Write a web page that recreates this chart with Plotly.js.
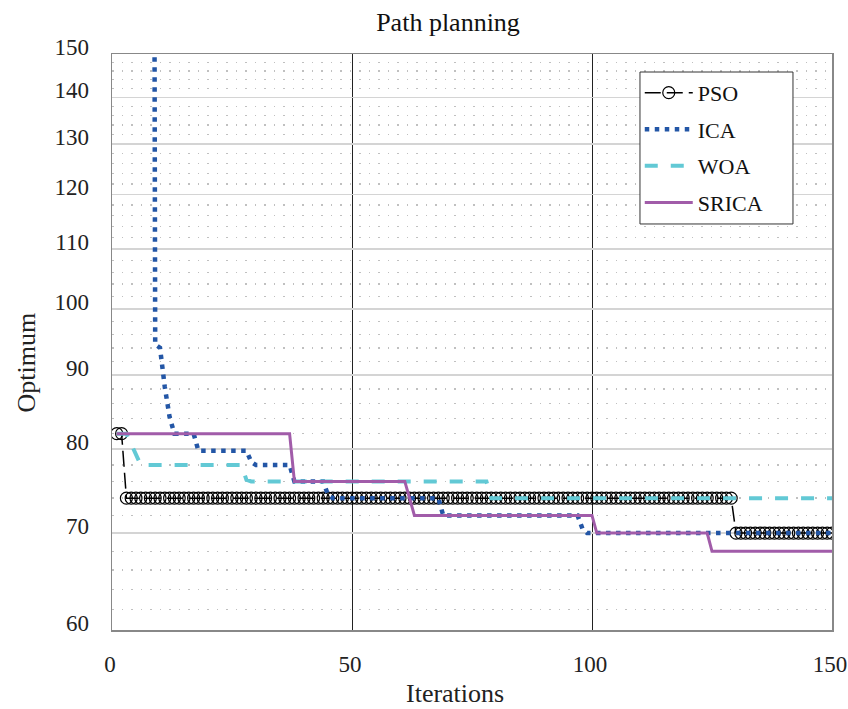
<!DOCTYPE html>
<html>
<head>
<meta charset="utf-8">
<script src="https://cdn.plot.ly/plotly-3.0.1.min.js"></script>
<style>html,body{margin:0;padding:0;background:#fff;}#chart{width:848px;height:709px;}</style>
</head>
<body>
<div id="chart"></div>
<script>
// ---- data ----
var psoX = [1,2,3,4,5,6,7,8,9,10,11,12,13,14,15,16,17,18,19,20,21,22,23,24,25,26,27,28,29,30,
  31,32,33,34,35,36,37,38,39,40,41,42,43,44,45,46,47,48,49,50,51,52,53,54,55,56,57,58,59,60,
  61,62,63,64,65,66,67,68,69,70,71,72,73,74,75,76,77,78,79,80,81,82,83,84,85,86,87,88,89,90,
  91,92,93,94,95,96,97,98,99,100,101,102,103,104,105,106,107,108,109,110,111,112,113,114,115,116,117,118,119,120,
  121,122,123,124,125,126,127,128,129,130,131,132,133,134,135,136,137,138,139,140,141,142,143,144,145,146,147,148,149,150];
var psoY = [82,82,74,74,74,74,74,74,74,74,74,74,74,74,74,74,74,74,74,74,74,74,74,74,74,74,74,74,74,74,
  74,74,74,74,74,74,74,74,74,74,74,74,74,74,74,74,74,74,74,74,74,74,74,74,74,74,74,74,74,74,
  74,74,74,74,74,74,74,74,74,74,74,74,74,74,74,74,74,74,74,74,74,74,74,74,74,74,74,74,74,74,
  74,74,74,74,74,74,74,74,74,74,74,74,74,74,74,74,74,74,74,74,74,74,74,74,74,74,74,74,74,74,
  74,74,74,74,74,74,74,74,74,70,70,70,70,70,70,70,70,70,70,70,70,70,70,70,70,70,70,70,70,70];

var icaX = [1, 8, 9, 10, 11, 12, 13, 17, 18, 28, 29, 30, 37, 38, 44, 45, 46, 68, 69, 97, 98, 99, 150];
var icaY = [3000, 3000, 94.5, 94, 88.3, 84.2, 82, 82, 79.8, 79.8, 78.4, 78, 78, 76, 76, 74.4, 74, 74, 72, 72, 70.5, 70, 70];

var woaX = [1, 3, 6, 27, 28, 29, 78, 79, 150];
var woaY = [82, 82, 78, 78, 76.2, 76, 76, 74, 74];

var sricaX = [1, 37, 38, 61, 63, 100, 101, 124, 125, 150];
var sricaY = [82, 82, 76, 76, 72, 72, 70, 70, 68, 68];

var yMajor = [60, 70, 80, 90, 100, 110, 120, 130, 140, 150];
var yMinor = [62,64,66,68,72,74,76,78,82,84,86,88,92,94,96,98,102,104,106,108,
  112,114,116,118,122,124,126,128,132,134,136,138,142,144,146,148];
var xTicks = [0, 50, 100, 150];

var FONT = 'Liberation Serif, Times New Roman, serif';

var traces = [
  {x: psoX, y: psoY, name: 'PSO', type: 'scatter', mode: 'lines+markers', legendgroup: 'a',
   line: {color: '#000000', width: 1.5, dash: '16px,6px'},
   marker: {symbol: 'circle-open', size: 12, color: '#000000', line: {width: 1.2, color: '#000'}}},
  {x: icaX, y: icaY, name: 'ICA', type: 'scatter', mode: 'lines', legendgroup: 'b',
   line: {color: '#2356a6', width: 4.5, dash: '4.5px,5.5px'}},
  {x: woaX, y: woaY, name: 'WOA', type: 'scatter', mode: 'lines', legendgroup: 'c',
   line: {color: '#62c9d5', width: 4, dash: '13px,13px'}},
  {x: sricaX, y: sricaY, name: 'SRICA', type: 'scatter', mode: 'lines', legendgroup: 'd',
   line: {color: '#a15ca9', width: 3}}
];

var layout = {
  width: 848, height: 709,
  margin: {l: 112, r: 16, t: 54, b: 79},
  paper_bgcolor: '#ffffff', plot_bgcolor: '#ffffff',
  font: {family: FONT, color: '#222', size: 23},
  title: {text: 'Path planning', font: {family: FONT, size: 26, color: '#111'},
          xref: 'paper', x: 0.4667, xanchor: 'center', yref: 'container', y: 0.969, yanchor: 'middle'},
  showlegend: true,
  legend: {x: 0.733, y: 0.969, xanchor: 'left', yanchor: 'top',
           bgcolor: 'rgba(0,0,0,0)', borderwidth: 0,
           font: {family: FONT, size: 22, color: '#111'}, tracegroupgap: 5,
           itemwidth: 48},
  shapes: [
    // legend frame
    {type: 'rect', xref: 'paper', yref: 'paper', x0: 0.7333, x1: 0.9458, y0: 0.7049, y1: 0.96875,
     fillcolor: '#ffffff', line: {color: '#333', width: 1}, layer: 'above'}
  ],
  xaxis: {range: [0, 150], tickvals: xTicks, ticktext: xTicks.map(String),
          showgrid: true, gridcolor: '#222', gridwidth: 1,
          showline: true, mirror: true, linecolor: '#888', linewidth: 1.5,
          zeroline: false, ticks: '', ticklabelstandoff: 13, ticklabelshift: -2, ticklabeloverflow: 'allow',
          tickfont: {family: FONT, size: 23, color: '#222'}},
  yaxis: {type: 'log', range: [Math.log10(60), Math.log10(150)],
          tickmode: 'array', tickvals: yMajor, ticktext: yMajor.map(String),
          showgrid: true, gridcolor: '#d4d4d4', gridwidth: 1.5,
          minor: {tickmode: 'array', tickvals: yMinor, showgrid: true, gridcolor: '#c0c0c0', gridwidth: 1.5, griddash: '1.5px,8px', ticks: ''},
          showline: true, mirror: true, linecolor: '#888', linewidth: 1.5,
          zeroline: false, ticks: '', ticklabelstandoff: 17, ticklabelshift: -7,
          tickfont: {family: FONT, size: 23, color: '#222'}},
  annotations: [
    {text: 'Iterations', xref: 'paper', yref: 'paper', x: 0.476, y: -0.111, xanchor: 'center', yanchor: 'middle',
     showarrow: false, font: {family: FONT, size: 26, color: '#222'}},
    {text: 'Optimum', xref: 'paper', yref: 'paper', x: -0.119, y: 0.465, xanchor: 'center', yanchor: 'middle',
     textangle: -90, showarrow: false, font: {family: FONT, size: 26, color: '#222'}}
  ]
};

Plotly.newPlot('chart', traces, layout, {displayModeBar: false, staticPlot: true});
</script>
</body>
</html>
